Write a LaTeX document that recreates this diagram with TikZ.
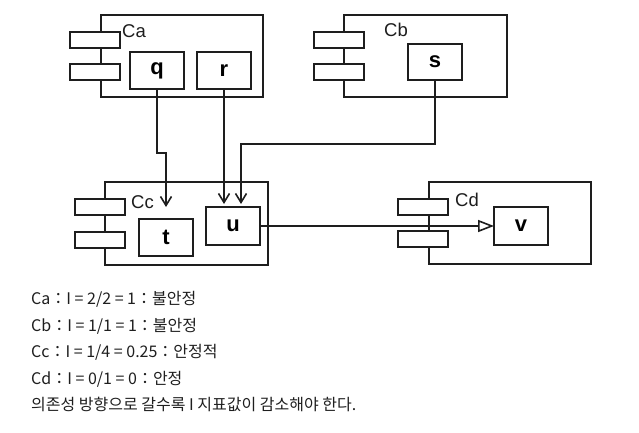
\documentclass[tikz,border=0pt]{standalone}
\usepackage{fontspec}
\setmainfont{Liberation Sans}
\newfontfamily\krfont{Noto Sans CJK KR}
\usetikzlibrary{arrows.meta}
\definecolor{ink}{HTML}{1E1E1E}
\tikzset{
  every picture/.style={x=1pt,y=-1pt},
  comp/.style={draw=ink, line width=2pt, fill=white, inner sep=0pt, outer sep=0pt},
  tabbox/.style={comp, minimum width=50pt, minimum height=16pt},
  part/.style={comp, font=\bfseries\fontsize{22}{22}\selectfont, minimum width=54pt, minimum height=37pt},
  clabel/.style={anchor=west, inner sep=0pt, font=\fontsize{18.5}{18.5}\selectfont, text=ink},
  dep/.style={draw=ink, line width=2pt, -{Straight Barb[length=9pt,width=11pt,line width=1.6pt]}},
  impl/.style={draw=ink, line width=2pt, -{Triangle[open,length=16pt,width=12pt,line width=1.6pt,fill=white]}},
  txt/.style={anchor=base west, inner sep=0pt, font=\krfont\fontsize{16}{16}\selectfont, text=ink}
}
\begin{document}
\begin{tikzpicture}
\useasboundingbox (0,0) rectangle (639,433);
% Ca
\node[comp, minimum width=162pt, minimum height=82pt] (Ca) at (182,56) {};
\node[tabbox] (Ca1) at (95,40) {};
\node[tabbox] (Ca2) at (95,72) {};
\node[clabel] (CaL) at (122,31) {Ca};
\node[part] (q) at (157,70.5) {q};
\node[part] (r) at (224,70.5) {r};
% Cb
\node[comp, minimum width=163pt, minimum height=82pt] (Cb) at (425.5,56) {};
\node[tabbox] (Cb1) at (339,40) {};
\node[tabbox] (Cb2) at (339,72) {};
\node[clabel] (CbL) at (384,30) {Cb};
\node[part, minimum height=36pt] (s) at (435,62) {s};
% Cc
\node[comp, minimum width=163pt, minimum height=83pt] (Cc) at (186.5,223.5) {};
\node[tabbox] (Cc1) at (100,207) {};
\node[tabbox] (Cc2) at (100,240) {};
\node[clabel] (CcL) at (131,202) {Cc};
\node[part] (t) at (166,237.5) {t};
\node[part, minimum height=38pt] (u) at (233,226) {u};
% Cd
\node[comp, minimum width=162pt, minimum height=82pt] (Cd) at (510,223) {};
\node[tabbox] (Cd1) at (423,206.5) {};
\node[tabbox] (Cd2) at (423,239) {};
\node[clabel] (CdL) at (455,200) {Cd};
\node[part, minimum height=38pt] (v) at (521,226) {v};
% connectors
\draw[dep, shorten >=12pt] (q.south) -- ++(0,64) -| (t.north);
\draw[dep, shorten >=3pt] (r.south) -- (r.south |- u.north);
\draw[dep, shorten >=3pt] (s.south) -- ++(0,64) -| ([xshift=8pt]u.north);
\draw[impl] (u.east) -- (v.west);
% text
\node[txt] (l1) at (31,304.5) {Ca：I = 2/2 = 1：불안정};
\node[txt] (l2) at (31,331) {Cb：I = 1/1 = 1：불안정};
\node[txt] (l3) at (31,357.5) {Cc：I = 1/4 = 0.25：안정적};
\node[txt] (l4) at (31,384) {Cd：I = 0/1 = 0：안정};
\node[txt] (l5) at (31,410.5) {의존성 방향으로 갈수록 I 지표값이 감소해야 한다.};
\end{tikzpicture}
\end{document}
